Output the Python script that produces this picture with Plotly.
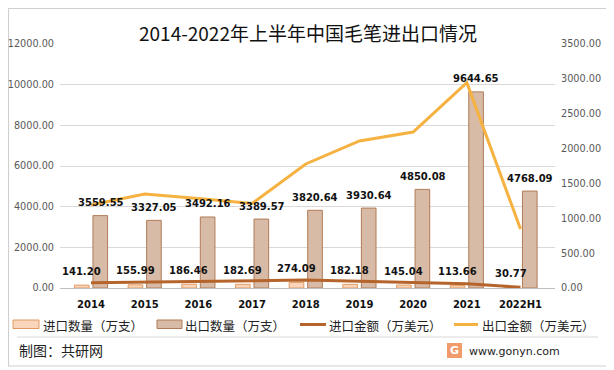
import plotly.graph_objects as go

categories = ["2014", "2015", "2016", "2017", "2018", "2019", "2020", "2021", "2022H1"]
import_qty = [141.20, 155.99, 186.46, 182.69, 274.09, 182.18, 145.04, 113.66, 30.77]
export_qty = [3559.55, 3327.05, 3492.16, 3389.57, 3820.64, 3930.64, 4850.08, 9644.65, 4768.09]
import_amt = [76, 86, 95, 100, 113, 96, 76, 60, 12]
export_amt = [1191, 1349, 1284, 1212, 1779, 2109, 2238, 2945, 846]
series_names = ["进口数量（万支）", "出口数量（万支）", "进口金额（万美元）", "出口金额（万美元）"]

# page body has an 8px margin: figure occupies screen 8..614 x 8..370
OFF = 8
W, H = 614 - OFF, 370 - OFF
PL, PR, PT, PB = 60, 555, 44, 288          # plot area in screen pixels
L, R, T, B = PL - OFF, (W + OFF) - PR, PT - OFF, (H + OFF) - PB
pw, ph = PR - PL, PB - PT

def px(x):
    return (x - PL) / pw

def py(y):
    return (PB - y) / ph

IMP_FILL, IMP_EDGE = "#f9d6bb", "#e39a62"
EXP_FILL, EXP_EDGE = "#d7bba6", "#b27b57"
IMP_LINE, EXP_LINE = "#b5652c", "#f6b240"

fig = go.Figure()
fig.add_trace(go.Bar(x=categories, y=import_qty, name=series_names[0],
                     marker=dict(color=IMP_FILL, line=dict(color=IMP_EDGE, width=1))))
fig.add_trace(go.Bar(x=categories, y=export_qty, name=series_names[1],
                     marker=dict(color=EXP_FILL, line=dict(color=EXP_EDGE, width=1))))
fig.add_trace(go.Scatter(x=categories, y=import_amt, name=series_names[2], yaxis="y2",
                         mode="lines", line=dict(color=IMP_LINE, width=3)))
fig.add_trace(go.Scatter(x=categories, y=export_amt, name=series_names[3], yaxis="y2",
                         mode="lines", line=dict(color=EXP_LINE, width=3)))

lab_font = dict(family="DejaVu Sans", size=10, color="#111111", weight="bold")
ann = []
for i, v in enumerate(import_qty):
    ann.append(dict(x=i, y=v, xref="x", yref="y", text=f"{v:.2f}", showarrow=False,
                    xanchor="center", yanchor="middle", xshift=-9.5, yshift=14, font=lab_font))
for i, v in enumerate(export_qty):
    ann.append(dict(x=i, y=v, xref="x", yref="y", text=f"{v:.2f}", showarrow=False,
                    xanchor="center", yanchor="middle", xshift=9.5, yshift=13, font=lab_font))

ann.append(dict(x=px(308), y=py(33), xref="paper", yref="paper", text="2014-2022年上半年中国毛笔进出口情况",
                xanchor="center", yanchor="middle", showarrow=False,
                font=dict(family="Noto Sans CJK SC", size=19, color="#111111")))
ann.append(dict(x=px(17), y=py(350), xref="paper", yref="paper", text="制图：共研网",
                xanchor="left", yanchor="middle", showarrow=False,
                font=dict(family="Noto Sans CJK SC", size=14, color="#222222")))
ann.append(dict(x=px(467), y=py(351), xref="paper", yref="paper", text="www.gonyn.com",
                xanchor="left", yanchor="middle", showarrow=False,
                font=dict(family="DejaVu Sans", size=11, color="#222222")))
ann.append(dict(x=px(454.5), y=py(350.5), xref="paper", yref="paper", text="G",
                xanchor="center", yanchor="middle", showarrow=False,
                font=dict(family="DejaVu Sans", size=11, color="white", weight="bold")))

# custom legend (screen-pixel placement)
leg_font = dict(family="Noto Sans CJK SC", size=12.5, color="#222222")
leg_text_x = [41, 183, 327, 480]
for name, tx in zip(series_names, leg_text_x):
    ann.append(dict(x=px(tx), y=py(325), xref="paper", yref="paper", text=name,
                    xanchor="left", yanchor="middle", showarrow=False, font=leg_font))
fig.update_layout(annotations=ann)

shapes = [
    dict(type="rect", xref="paper", yref="paper", x0=px(8.5), x1=px(610), y0=py(366), y1=py(8.5),
         line=dict(color="#d0d0d0", width=1.2), fillcolor="rgba(0,0,0,0)", layer="below"),
    dict(type="line", xref="paper", yref="paper", x0=px(17), x1=px(598), y0=py(337), y1=py(337),
         line=dict(color="#d9d9d9", width=1)),
    dict(type="rect", xref="paper", yref="paper", x0=px(447), x1=px(462), y0=py(358), y1=py(343),
         line=dict(width=0), fillcolor="#f29b6a"),
    dict(type="rect", xref="paper", yref="paper", x0=px(13), x1=px(39), y0=py(328.5), y1=py(320),
         line=dict(color=IMP_EDGE, width=1), fillcolor=IMP_FILL),
    dict(type="rect", xref="paper", yref="paper", x0=px(157), x1=px(182), y0=py(328.5), y1=py(320),
         line=dict(color=EXP_EDGE, width=1), fillcolor=EXP_FILL),
    dict(type="line", xref="paper", yref="paper", x0=px(300), x1=px(326), y0=py(324.5), y1=py(324.5),
         line=dict(color=IMP_LINE, width=3)),
    dict(type="line", xref="paper", yref="paper", x0=px(454), x1=px(478), y0=py(324.5), y1=py(324.5),
         line=dict(color=EXP_LINE, width=3)),
]
fig.update_layout(shapes=shapes)

fig.update_layout(
    width=W, height=H,
    margin=dict(l=L, r=R, t=T, b=B, autoexpand=False),
    paper_bgcolor="white", plot_bgcolor="white",
    barmode="group", bargap=0.31, bargroupgap=0.21,
    showlegend=False,
    xaxis=dict(type="category", showline=True, linecolor="#bfbfbf", linewidth=1, ticks="",
               tickfont=dict(family="DejaVu Sans", size=10, color="#111111", weight="bold"),
               showgrid=False, automargin=False, ticklabelstandoff=7),
    yaxis=dict(range=[0, 12000], dtick=2000, tickformat=".2f", gridcolor="#d9d9d9",
               tickfont=dict(family="DejaVu Sans", size=9.7, color="#595959"),
               zeroline=False, showline=False, ticks="", ticklabelstandoff=5, automargin=False),
    yaxis2=dict(range=[0, 3500], dtick=500, tickformat=".2f", overlaying="y", side="right",
                showgrid=False, zeroline=False, showline=False, automargin=False,
                tickfont=dict(family="DejaVu Sans", size=9.7, color="#595959"), ticklabelstandoff=5),
)

fig.write_html("out.html")
